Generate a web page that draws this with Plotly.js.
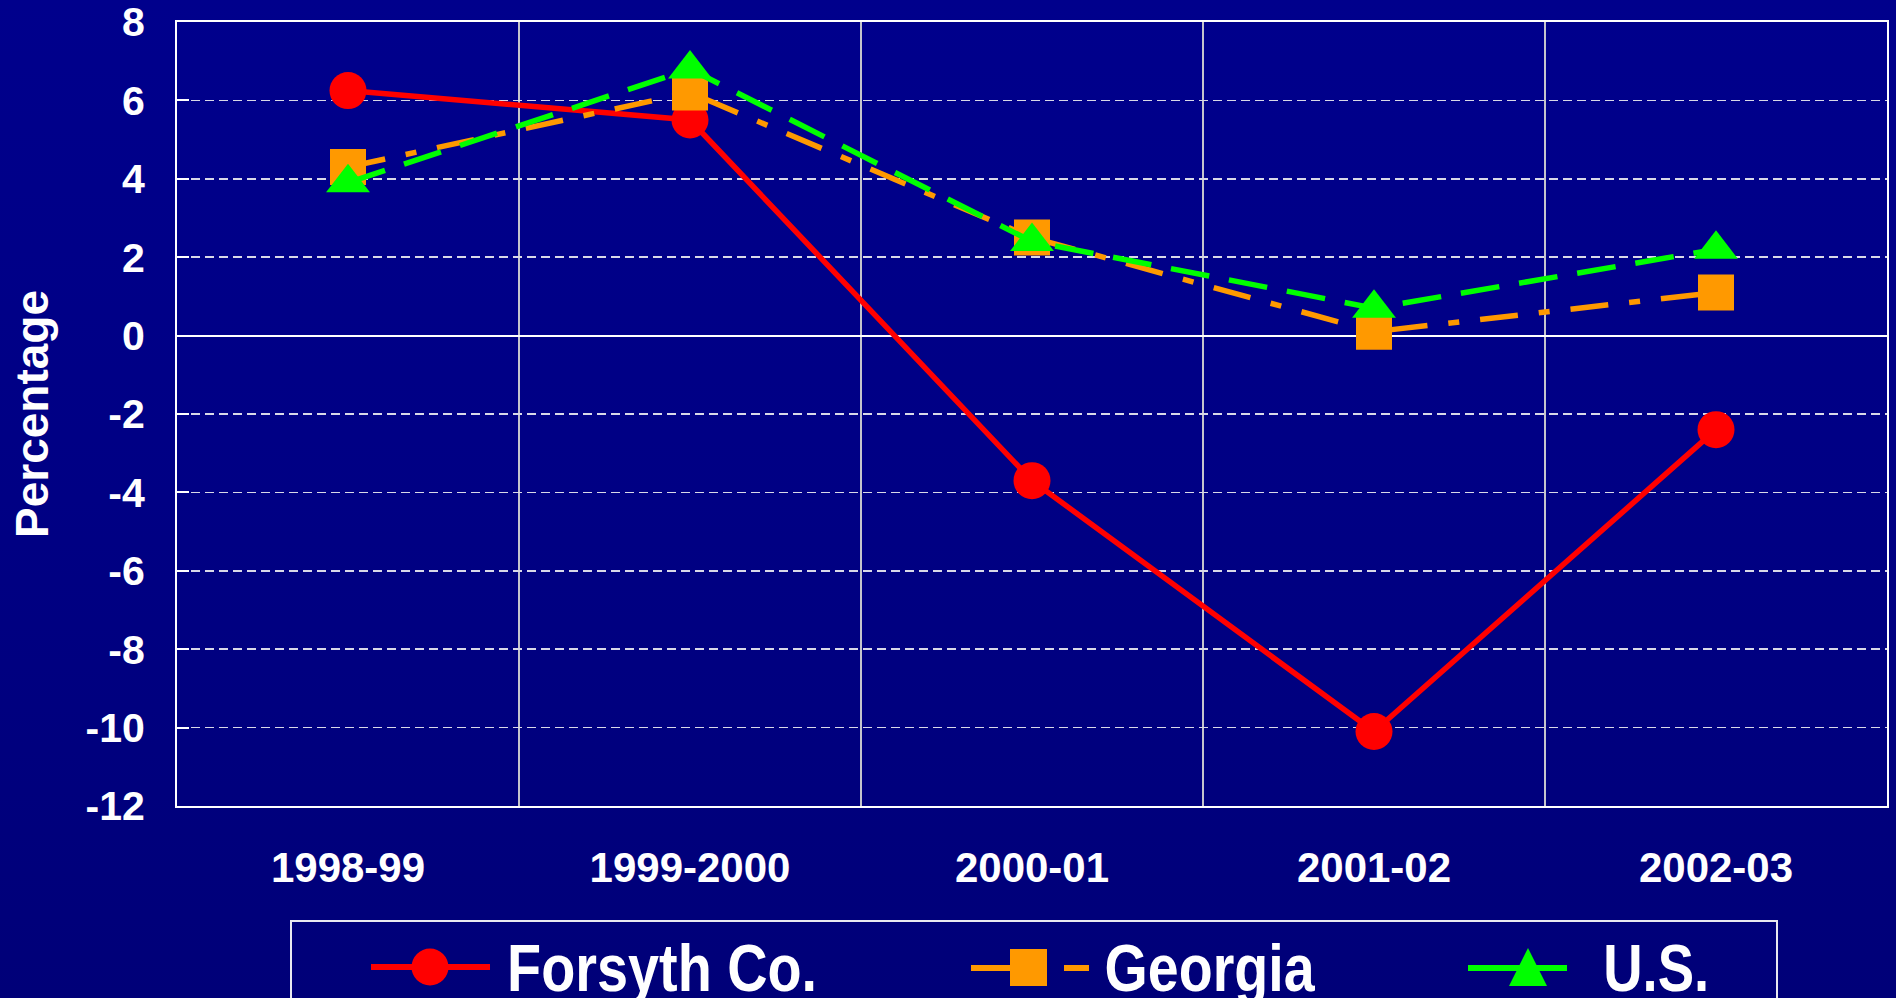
<!DOCTYPE html>
<html>
<head>
<meta charset="utf-8">
<script src="https://cdn.plot.ly/plotly-3.0.1.min.js"></script>
<style>
  html, body { margin: 0; padding: 0; }
  body { width: 1896px; height: 998px; overflow: hidden;
         background: linear-gradient(to bottom, #00008c 0%, #000084 50%, #000078 100%); }
  #chart { width: 1896px; height: 998px; }
</style>
</head>
<body>
<div id="chart"></div>
<script>
// ---- data ----
const categories = ['1998-99', '1999-2000', '2000-01', '2001-02', '2002-03'];
const forsyth = [6.25, 5.5, -3.7, -10.1, -2.4];
const georgia = [4.3, 6.2, 2.5, 0.1, 1.1];
const us = [3.9, 6.8, 2.4, 0.7, 2.2];
const seriesNames = ['Forsyth Co.', 'Georgia', 'U.S.'];
const yTickVals = [-12, -10, -8, -6, -4, -2, 0, 2, 4, 6, 8];

// ---- styles ----
const RED = '#ff0000', ORANGE = '#ff9900', GREEN = '#00ff00';
const FONT = 'Liberation Sans, Arial, sans-serif';

// plot area in pixels
const L = 177, R = 1887, T = 22, B = 806;
const px2x = p => (p - L) / (R - L);
const py2y = p => (B - p) / (B - T);

const traces = [
  { x: categories, y: forsyth, name: seriesNames[0], type: 'scatter', mode: 'lines+markers',
    line: { color: RED, width: 5.5 },
    marker: { symbol: 'circle', size: 37, color: RED } },
  { x: categories, y: georgia, name: seriesNames[1], type: 'scatter', mode: 'lines+markers',
    line: { color: ORANGE, width: 5.5, dash: '38px,21px,11px,21px' },
    marker: { symbol: 'square', size: 36, color: ORANGE } },
  { x: categories, y: us, name: seriesNames[2], type: 'scatter', mode: 'lines+markers',
    line: { color: GREEN, width: 5.5, dash: '39px,20px' },
    marker: { symbol: 'triangle-up', size: 38, color: GREEN } }
];

// ---- custom legend (decoration) ----
const legY = 967;
function hline(x0, x1, y, color, w, dash) {
  return { type: 'line', xref: 'paper', yref: 'paper', x0: px2x(x0), x1: px2x(x1), y0: py2y(y), y1: py2y(y),
           line: { color: color, width: w, dash: dash || 'solid' }, layer: 'above' };
}
const shapes = [
  { type: 'rect', xref: 'paper', yref: 'paper', x0: px2x(291), x1: px2x(1777), y0: py2y(1010), y1: py2y(921),
    line: { color: '#e8e8f0', width: 2 }, fillcolor: 'rgba(0,0,0,0)' },
  hline(371, 490, legY, RED, 6),
  { type: 'circle', xref: 'paper', yref: 'paper', x0: px2x(411.5), x1: px2x(448.5), y0: py2y(legY + 18.5), y1: py2y(legY - 18.5),
    fillcolor: RED, line: { width: 0 } },
  hline(971, 1010, legY + 1, ORANGE, 6),
  hline(1064, 1089, legY + 1, ORANGE, 6),
  { type: 'rect', xref: 'paper', yref: 'paper', x0: px2x(1010), x1: px2x(1047), y0: py2y(legY + 19), y1: py2y(legY - 18),
    fillcolor: ORANGE, line: { width: 0 } },
  hline(1468, 1567, legY + 1, GREEN, 6),
  { type: 'path', xref: 'paper', yref: 'paper',
    path: 'M' + px2x(1509) + ',' + py2y(986) + ' L' + px2x(1547) + ',' + py2y(986) + ' L' + px2x(1528) + ',' + py2y(948) + ' Z',
    fillcolor: GREEN, line: { width: 0 } }
];
// legend text: centre x and compressed width (the original uses a narrow face)
const legendText = [
  { text: seriesNames[0], cx: 661.5, w: 310 },
  { text: seriesNames[1], cx: 1210, w: 210 },
  { text: seriesNames[2], cx: 1655.5, w: 106 }
];
const annotations = legendText.map(a => ({
  text: a.text, xref: 'paper', yref: 'paper', x: px2x(a.cx), xanchor: 'center',
  y: py2y(967), yanchor: 'middle', showarrow: false,
  font: { family: FONT, size: 67, color: '#ffffff', weight: 'bold' }
}));

const layout = {
  width: 1896, height: 998,
  margin: { l: L, r: 1896 - R, t: T, b: 998 - B },
  paper_bgcolor: 'rgba(0,0,0,0)',
  plot_bgcolor: 'rgba(0,0,0,0)',
  showlegend: false,
  xaxis: {
    type: 'category', tickson: 'boundaries', range: [-0.5, categories.length - 0.5], autorange: false,
    showgrid: true, gridcolor: '#c4c4cc', gridwidth: 2,
    showline: true, linecolor: '#ffffff', linewidth: 2, mirror: true,
    ticks: '', ticklabelstandoff: 24,
    tickfont: { family: FONT, size: 42, color: '#ffffff', weight: 'bold' },
    fixedrange: true
  },
  yaxis: {
    range: [-12, 8], autorange: false, tickvals: yTickVals, ticktext: yTickVals.map(String),
    ticklabeloverflow: 'allow',
    showgrid: true, gridcolor: '#d8d8e8', gridwidth: 1.5, griddash: '9px,5px',
    zeroline: true, zerolinecolor: '#ffffff', zerolinewidth: 2,
    showline: true, linecolor: '#ffffff', linewidth: 2, mirror: true,
    ticks: 'inside', ticklen: 12, tickwidth: 2, tickcolor: '#ffffff',
    ticklabelstandoff: 22,
    tickfont: { family: FONT, size: 41, color: '#ffffff', weight: 'bold' },
    title: { text: 'Percentage', standoff: 22, font: { family: FONT, size: 46, color: '#ffffff', weight: 'bold' } },
    fixedrange: true
  },
  shapes: shapes,
  annotations: annotations
};

Plotly.newPlot('chart', traces, layout, { displayModeBar: false, staticPlot: true }).then(function () {
  // compress legend labels horizontally to mimic the narrow face of the original
  const els = document.querySelectorAll('.annotation-text');
  els.forEach(function (el, i) {
    if (!legendText[i]) return;
    el.setAttribute('lengthAdjust', 'spacingAndGlyphs');
    el.setAttribute('textLength', legendText[i].w);
  });
});
</script>
</body>
</html>
